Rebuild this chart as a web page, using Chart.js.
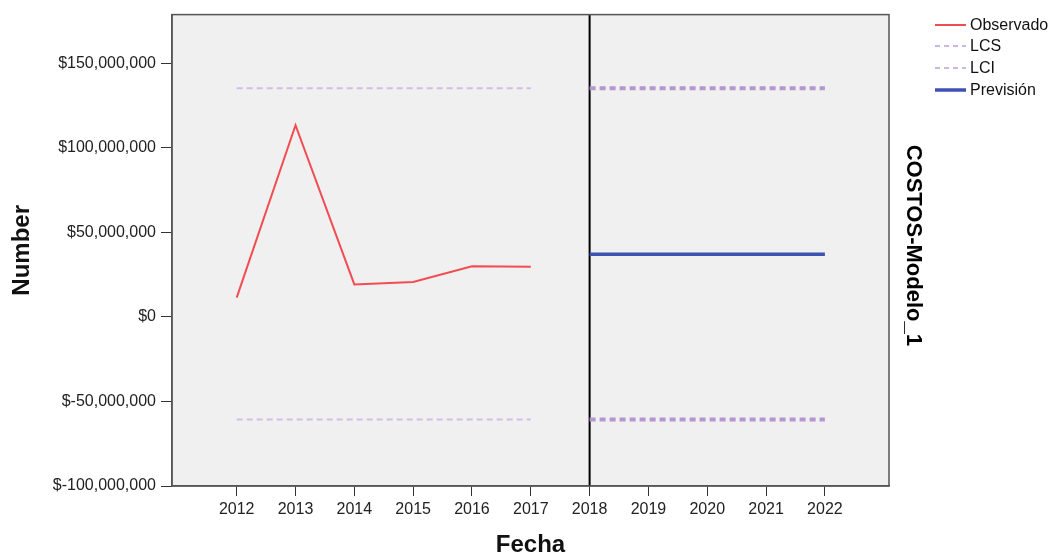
<!DOCTYPE html>
<html>
<head>
<meta charset="utf-8">
<script src="https://cdn.jsdelivr.net/npm/chart.js@4.4.0/dist/chart.umd.min.js"></script>
<style>
  html, body { margin: 0; padding: 0; background: #fff; }
  #wrap { width: 1058px; height: 554px; position: relative; }
</style>
</head>
<body>
<div id="wrap"><canvas id="chart-costos"></canvas></div>
<script>
// datos
const fitYears = [2012, 2013, 2014, 2015, 2016, 2017];
const forecastYears = [2018, 2019, 2020, 2021, 2022];
const xTickYears = [2012, 2013, 2014, 2015, 2016, 2017, 2018, 2019, 2020, 2021, 2022];

const observado = [11400000, 113400000, 19200000, 20600000, 30000000, 29600000];
const lcsFit = [135300000, 135300000, 135300000, 135300000, 135300000, 135300000];
const lciFit = [-60600000, -60600000, -60600000, -60600000, -60600000, -60600000];
const lcsForecast = [135300000, 135300000, 135300000, 135300000, 135300000];
const lciForecast = [-60600000, -60600000, -60600000, -60600000, -60600000];
const prevision = [37000000, 37000000, 37000000, 37000000, 37000000];

const yTicks = [-100000000, -50000000, 0, 50000000, 100000000, 150000000];
const yMin = -100000000;
const yMax = 178800000;
const xMin = 2010.9;
const xMax = 2023.09;
const forecastStart = 2018;

const FONT = '"Liberation Sans", Arial, sans-serif';

function pairs(xs, ys) {
    return xs.map((x, i) => ({ x: x, y: ys[i] }));
}

// fondo gris y marco del area de trazado
const plotFrame = {
    id: 'plotFrame',
    beforeDraw(chart) {
        const { ctx, chartArea: a } = chart;
        ctx.save();
        ctx.fillStyle = '#f0f0f0';
        ctx.fillRect(a.left, a.top, a.right - a.left, a.bottom - a.top);
        ctx.restore();
    },
    afterDraw(chart) {
        const { ctx, chartArea: a } = chart;
        ctx.save();
        ctx.strokeStyle = '#555';
        ctx.lineWidth = 1.5;
        ctx.strokeRect(a.left, a.top, a.right - a.left, a.bottom - a.top);

        // titulo derecho
        ctx.fillStyle = '#000';
        ctx.font = 'bold 22px ' + FONT;
        ctx.textAlign = 'center';
        ctx.textBaseline = 'middle';
        ctx.translate(913, (a.top + a.bottom) / 2 - 5);
        ctx.rotate(Math.PI / 2);
        ctx.fillText('COSTOS-Modelo_1', 0, 0);
        ctx.restore();

        // leyenda
        const items = [
            { text: 'Observado', color: '#f24c52', width: 2, dash: [], y: 25 },
            { text: 'LCS', color: '#cdb6e4', width: 2, dash: [5, 4], y: 46 },
            { text: 'LCI', color: '#cdb6e4', width: 2, dash: [5, 4], y: 68 },
            { text: 'Previsión', color: '#3e52b2', width: 3.5, dash: [], y: 90 }
        ];
        ctx.save();
        ctx.font = '16px ' + FONT;
        ctx.textBaseline = 'middle';
        ctx.textAlign = 'left';
        items.forEach(it => {
            ctx.beginPath();
            ctx.setLineDash(it.dash);
            ctx.strokeStyle = it.color;
            ctx.lineWidth = it.width;
            ctx.moveTo(935, it.y);
            ctx.lineTo(966, it.y);
            ctx.stroke();
            ctx.setLineDash([]);
            ctx.fillStyle = '#111';
            ctx.fillText(it.text, 970, it.y + 1);
        });
        ctx.restore();
    }
};

const canvas = document.getElementById('chart-costos');

new Chart(canvas, {
    type: 'line',
    data: {
        datasets: [
            {
                label: 'LCS',
                data: pairs(fitYears, lcsFit),
                borderColor: '#d2bde6',
                borderWidth: 2,
                borderDash: [6, 4],
                pointRadius: 0
            },
            {
                label: 'LCI',
                data: pairs(fitYears, lciFit),
                borderColor: '#d2bde6',
                borderWidth: 2,
                borderDash: [6, 4],
                pointRadius: 0
            },
            {
                label: 'LCS',
                data: pairs(forecastYears, lcsForecast),
                borderColor: '#b496d0',
                borderWidth: 4,
                borderDash: [6, 4],
                pointRadius: 0
            },
            {
                label: 'LCI',
                data: pairs(forecastYears, lciForecast),
                borderColor: '#b496d0',
                borderWidth: 4,
                borderDash: [6, 4],
                pointRadius: 0
            },
            {
                label: 'Observado',
                data: pairs(fitYears, observado),
                borderColor: '#f24c52',
                borderWidth: 2,
                pointRadius: 0,
                tension: 0
            },
            {
                label: 'Previsión',
                data: pairs(forecastYears, prevision),
                borderColor: '#3e52b2',
                borderWidth: 3.5,
                pointRadius: 0
            },
            {
                label: 'inicio',
                data: [{ x: forecastStart, y: yMin }, { x: forecastStart, y: yMax }],
                borderColor: '#000',
                borderWidth: 2,
                pointRadius: 0
            }
        ]
    },
    options: {
        responsive: true,
        maintainAspectRatio: false,
        animation: false,
        layout: {
            padding: { left: 0, right: 169, top: 12, bottom: 0 }
        },
        plugins: {
            legend: { display: false },
            tooltip: { enabled: false }
        },
        scales: {
            x: {
                type: 'linear',
                min: xMin,
                max: xMax,
                afterBuildTicks: function (scale) {
                    scale.ticks = xTickYears.map(v => ({ value: v }));
                },
                afterFit: function (scale) {
                    scale.height = 68;
                },
                grid: {
                    drawOnChartArea: false,
                    drawTicks: true,
                    tickLength: 10,
                    color: '#333'
                },
                border: { display: true, color: '#555', width: 1.5 },
                ticks: {
                    color: '#222',
                    font: { family: FONT, size: 16 },
                    padding: 4,
                    maxRotation: 0,
                    autoSkip: false,
                    callback: function (value) {
                        return String(value);
                    }
                },
                title: {
                    display: true,
                    text: 'Fecha',
                    color: '#111',
                    padding: { top: 0, bottom: -3 },
                    font: { family: FONT, size: 24, weight: 'bold', lineHeight: 1 }
                }
            },
            y: {
                min: yMin,
                max: yMax,
                afterBuildTicks: function (scale) {
                    scale.ticks = yTicks.map(v => ({ value: v }));
                },
                afterFit: function (scale) {
                    scale.width = 172;
                },
                grid: {
                    drawOnChartArea: false,
                    drawTicks: true,
                    tickLength: 11,
                    color: '#333'
                },
                border: { display: true, color: '#555', width: 1.5 },
                ticks: {
                    color: '#222',
                    font: { family: FONT, size: 16 },
                    padding: 5,
                    callback: function (value) {
                        return '$' + value.toLocaleString('en-US');
                    }
                },
                title: {
                    display: true,
                    text: 'Number',
                    color: '#111',
                    padding: { top: 10, bottom: 0 },
                    font: { family: FONT, size: 24, weight: 'bold', lineHeight: 1 }
                }
            }
        }
    },
    plugins: [plotFrame]
});
</script>
</body>
</html>
